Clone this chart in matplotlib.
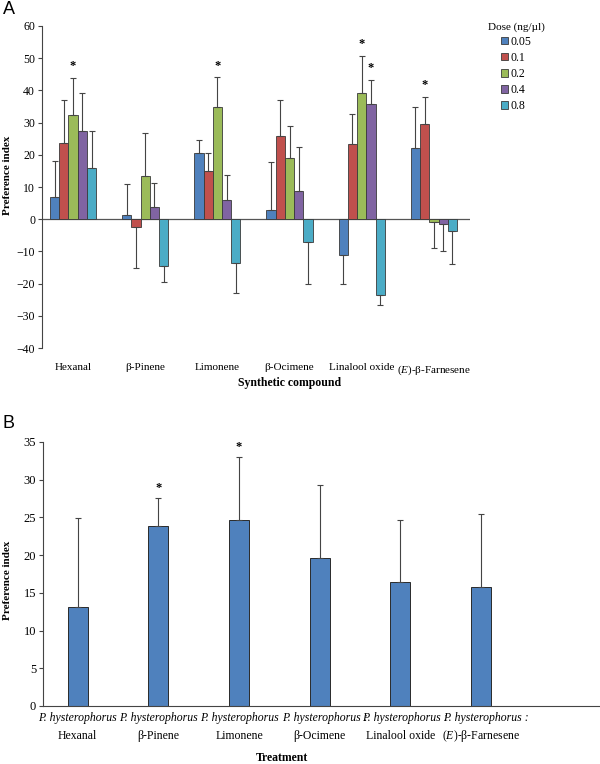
import matplotlib
matplotlib.use("Agg")
import matplotlib.pyplot as plt
from matplotlib.patches import Patch
from matplotlib.transforms import blended_transform_factory
import numpy as np

plt.rcParams['font.family'] = ['Liberation Serif', 'DejaVu Serif']
plt.rcParams['mathtext.fontset'] = 'custom'
plt.rcParams['mathtext.rm'] = 'Liberation Serif'
plt.rcParams['mathtext.it'] = 'Liberation Serif:italic'
plt.rcParams['mathtext.bf'] = 'Liberation Serif:bold'

# ---------------- Panel A data ----------------
compounds_a = ["Hexanal", "β-Pinene", "Limonene", "β-Ocimene", "Linalool oxide", "($\\it{E}$)-β-Farnesene"]
doses = ["0.05", "0.1", "0.2", "0.4", "0.8"]
dose_colors = ["#4F81BD", "#C0504D", "#9BBB59", "#8064A2", "#4BACC6"]

# values per dose across compounds
pi_005 = [7.0, 1.2, 20.7, 3.0, -11.0, 22.0]
pi_01 = [23.8, -2.5, 15.1, 25.7, 23.4, 29.7]
pi_02 = [32.4, 13.4, 34.9, 18.9, 39.3, -0.8]
pi_04 = [27.4, 3.8, 6.1, 8.8, 35.9, -1.5]
pi_08 = [15.8, -14.5, -13.7, -7.0, -23.5, -3.7]
# error bar magnitudes (one-sided, away from zero)
err_005 = [11.2, 9.6, 4.0, 14.8, 9.0, 12.9]
err_01 = [13.1, 12.5, 5.6, 11.2, 9.2, 8.4]
err_02 = [11.5, 13.3, 9.2, 9.9, 11.4, 8.2]
err_04 = [11.9, 7.5, 7.6, 13.7, 7.4, 8.3]
err_08 = [11.6, 5.0, 9.1, 13.2, 3.2, 10.3]
# significance markers (compound index, dose index)
sig_a = [(0, 2), (2, 2), (4, 2), (4, 3), (5, 1)]

# ---------------- Panel B data ----------------
treat_line1 = ["P. hysterophorus", "P. hysterophorus", "P. hysterophorus",
               "P. hysterophorus :", "P. hysterophorus :", "P. hysterophorus :"]
treat_line2 = ["Hexanal", "β-Pinene", "Limonene", "β-Ocimene", "Linalool oxide",
               "($\\it{E}$)-β-Farnesene"]
pi_b = [13.1, 23.9, 24.7, 19.6, 16.5, 15.8]
err_b = [11.8, 3.7, 8.3, 9.7, 8.1, 9.7]
sig_b = [1, 2]

W, H = 600, 764
fig = plt.figure(figsize=(6.0, 7.64), dpi=100)

def fx(px):
    return px / W

def fy(py):
    return 1 - py / H

# ---------------- Panel A ----------------
axA = fig.add_axes([fx(42), fy(348), fx(470) - fx(42), fy(26) - fy(348)])
vals = [pi_005, pi_01, pi_02, pi_04, pi_08]
errs = [err_005, err_01, err_02, err_04, err_08]
x = np.arange(len(compounds_a))
bw = 0.128
for d in range(5):
    xs = x + (d - 2) * bw
    v = np.array(vals[d])
    e = np.array(errs[d])
    axA.bar(xs, v, width=bw, color=dose_colors[d], edgecolor="#3a3a3a", linewidth=0.6, zorder=2)
    lower = np.where(v < 0, e, 0)
    upper = np.where(v >= 0, e, 0)
    axA.errorbar(xs, v, yerr=[lower, upper], fmt="none", ecolor="#444444",
                 elinewidth=0.8, capsize=2.5, capthick=0.8, zorder=3)
for ci, di in sig_a:
    xs = ci + (di - 2) * bw
    top = vals[di][ci] + errs[di][ci]
    axA.annotate("*", (xs, top), xytext=(0, 4), textcoords="offset points",
                 ha="center", va="bottom", fontsize=9, fontweight="bold")
axA.axhline(0, color="#555555", linewidth=0.9, zorder=1)
axA.set_xlim(-0.43, 5.5)
axA.set_ylim(-40, 60)
axA.set_yticks(np.arange(-40, 61, 10))
axA.set_xticks(x)
axA.set_xticklabels(compounds_a, fontsize=8)
axA.tick_params(axis="x", length=0, pad=11)
axA.tick_params(axis="y", labelsize=8.5, length=3, width=0.8, direction="out", pad=2, color="#444444")
for s in ["top", "right", "bottom"]:
    axA.spines[s].set_visible(False)
axA.spines["left"].set_color("#444444")
axA.spines["left"].set_linewidth(0.8)

handles = [Patch(facecolor=c, edgecolor="#3a3a3a", linewidth=0.6) for c in dose_colors]
leg = fig.legend(handles, doses, title="Dose (ng/µl)", loc="upper center",
                 bbox_to_anchor=(fx(516), fy(22)), frameon=False, fontsize=8.5,
                 title_fontsize=8, handlelength=0.6, handleheight=0.6,
                 handletextpad=0.2, labelspacing=0.35, borderpad=0, borderaxespad=0)

fig.text(fx(8), fy(175), "Preference index", rotation=90, ha="center", va="center",
         fontsize=8, fontweight="bold")
fig.text(fx(290), fy(383), "Synthetic compound", ha="center", va="center",
         fontsize=8.5, fontweight="bold")
fig.text(fx(3), fy(10), "A", family="Liberation Sans", fontsize=13, ha="left", va="center")

# ---------------- Panel B ----------------
axB = fig.add_axes([fx(43), fy(706), fx(600) - fx(43), fy(442) - fy(706)])
xb = np.arange(len(pi_b))
axB.bar(xb, pi_b, width=0.25, color="#4F81BD", edgecolor="#2a2a2a", linewidth=0.7, zorder=2)
axB.errorbar(xb, pi_b, yerr=[np.zeros(len(err_b)), err_b], fmt="none", ecolor="#444444",
             elinewidth=0.8, capsize=2.5, capthick=0.8, zorder=3)
for i in sig_b:
    axB.annotate("*", (xb[i], pi_b[i] + err_b[i]), xytext=(0, 3), textcoords="offset points",
                 ha="center", va="bottom", fontsize=9, fontweight="bold")
axB.set_xlim(-0.43, 5 + (600 - 481) / 80.7)
axB.set_ylim(0, 35)
axB.set_yticks(np.arange(0, 36, 5))
axB.set_xticks(xb)
axB.set_xticklabels([""] * len(xb))
axB.tick_params(axis="x", length=0)
axB.tick_params(axis="y", labelsize=9, length=3, width=0.8, direction="out", pad=2, color="#444444")
for s in ["top", "right"]:
    axB.spines[s].set_visible(False)
for s in ["left", "bottom"]:
    axB.spines[s].set_color("#444444")
    axB.spines[s].set_linewidth(0.8)

tr = blended_transform_factory(axB.transData, fig.transFigure)
for i in range(len(xb)):
    off = 0.06 if treat_line1[i].endswith(":") else 0.0
    axB.text(xb[i] + off, fy(718), treat_line1[i], transform=tr, ha="center", va="center",
             fontsize=8.5, fontstyle="italic")
    axB.text(xb[i], fy(736), treat_line2[i], transform=tr, ha="center", va="center",
             fontsize=8.5)

fig.text(fx(8), fy(580), "Preference index", rotation=90, ha="center", va="center",
         fontsize=8, fontweight="bold")
fig.text(fx(282), fy(758), "Treatment", ha="center", va="center",
         fontsize=8.5, fontweight="bold")
fig.text(fx(3), fy(424), "B", family="Liberation Sans", fontsize=13, ha="left", va="center")

fig.savefig("out.png", dpi=100)
